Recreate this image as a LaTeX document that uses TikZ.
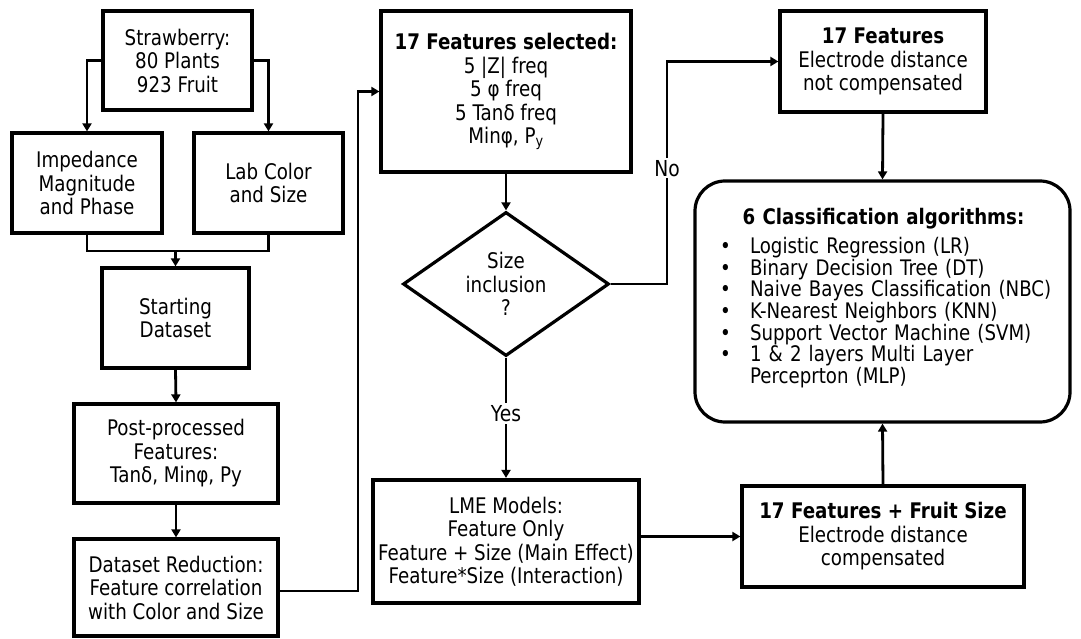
\documentclass[tikz,border=0pt]{standalone}
\usepackage{fontspec}
\setmainfont{DejaVu Sans}[FakeStretch=0.85]
\usetikzlibrary{shapes.geometric,arrows.meta}

\begin{document}
\begin{tikzpicture}[x=1pt,y=-1pt,
  box/.style={draw,line width=3.2pt,align=center,inner sep=0pt,
    font=\fontsize{21.5}{23.5}\selectfont},
  ln/.style={line width=2.8pt},
  arr/.style={ln,-{Triangle[length=8pt,width=9pt]}},
  lbl/.style={fill=white,inner sep=2pt,font=\fontsize{22}{24}\selectfont}]
\useasboundingbox (0,0) rectangle (1081,639);

% left column: data collection and preparation
\node[box,minimum width=149pt,minimum height=99pt] (straw) at (177.5,60.5)
  {Strawberry:\\80 Plants\\923 Fruit};
\node[box,minimum width=150pt,minimum height=100pt] (imp) at (87,183)
  {Impedance\\Magnitude\\and Phase};
\node[box,minimum width=149pt,minimum height=100pt] (lab) at (268.5,183)
  {Lab Color\\and Size};
\node[box,minimum width=147pt,minimum height=100pt] (start) at (175.5,318)
  {Starting\\Dataset};
\node[box,minimum width=204pt,minimum height=99pt] (post) at (176,453.5)
  {Post-processed\\Features:\\Tanδ, Minφ, Py};
\node[box,minimum width=204pt,minimum height=97pt] (red) at (176,587.5)
  {Dataset Reduction:\\Feature correlation\\with Color and Size};

% middle column: selected features and size decision
\node[box,minimum width=250pt,minimum height=161pt] (sel) at (506,91.5)
  {\textbf{17 Features selected:}\\5 |Z| freq\\5 φ freq\\5 Tanδ freq\\Minφ, P\textsubscript{y}};
\node[box,diamond,minimum width=206pt,minimum height=108pt] (dia) at (506,284)
  {Size\\inclusion\\?};
\node[box,line width=4.2pt,minimum width=266pt,minimum height=123pt] (lme) at (506,541.5)
  {LME Models:\\Feature Only\\Feature + Size (Main Effect)\\Feature*Size (Interaction)};

% right column: feature sets and classifiers
\node[box,minimum width=206pt,minimum height=101pt] (f17) at (883,61.5)
  {\textbf{17 Features}\\Electrode distance\\not compensated};
\node[box,minimum width=282pt,minimum height=101pt] (ffs) at (883,536.5)
  {\textbf{17 Features + Fruit Size}\\Electrode distance\\compensated};
\node[draw,line width=3.2pt,rounded corners=30pt,minimum width=375pt,
  minimum height=241pt] (cls) at (882.5,301.5) {};
\node[align=left,inner sep=0pt,text width=345pt,
  font=\fontsize{21.4}{21.7}\selectfont] (clsbody) at (892.5,298)
  {\makebox[327pt][c]{\bfseries 6 Classification algorithms:}\\[7.5pt]
   \makebox[30pt][l]{\textbullet}Logistic Regression (LR)\\
   \makebox[30pt][l]{\textbullet}Binary Decision Tree (DT)\\
   \makebox[30pt][l]{\textbullet}Naive Bayes Classification (NBC)\\
   \makebox[30pt][l]{\textbullet}K-Nearest Neighbors (KNN)\\
   \makebox[30pt][l]{\textbullet}Support Vector Machine (SVM)\\
   \makebox[30pt][l]{\textbullet}1 \& 2 layers Multi Layer\\
   \hspace*{30pt}Perceprton (MLP)};

% connectors
\coordinate (m) at (175.5,251);
\coordinate (rx) at (358,591);
\coordinate (nx) at (667,0);
\draw[arr] (straw.west) -| (imp.north);
\draw[arr] (straw.east) -| (lab.north);
\draw[ln] (imp.south) |- (m) -| (lab.south);
\draw[arr] (m) -- (start.north);
\draw[arr] (start.south) -- (post.north);
\draw[arr] (post.south) -- (red.north);
\draw[arr] (red.east |- rx) -- (rx) |- (sel.west);
\draw[arr] (sel.south) -- (dia.north);
\draw[arr] (dia.east) -- (dia.east -| nx) |- node[lbl,pos=0.26] (no) {No} (f17.west);
\draw[arr] (dia.south) -- node[lbl,pos=0.465] (yes) {Yes} (lme.north);
\draw[arr] (ffs.west -| lme.east) -- (ffs.west);
\draw[arr] (ffs.north) -- (cls.south);
\draw[arr] (f17.south) -- (cls.north);
\end{tikzpicture}
\end{document}
